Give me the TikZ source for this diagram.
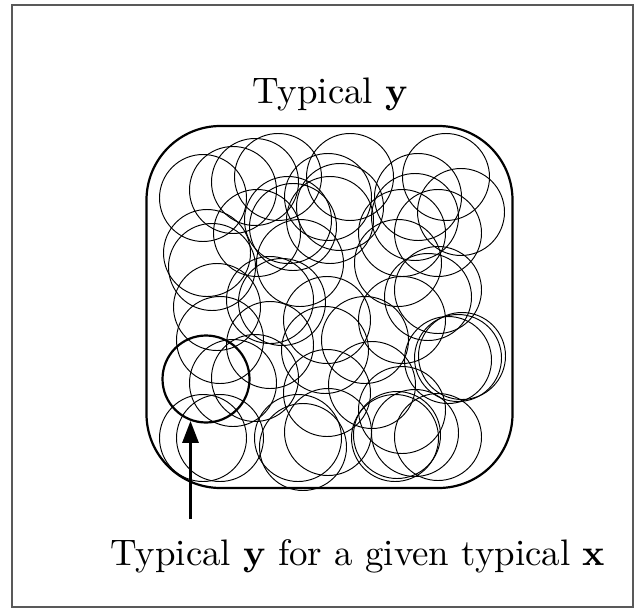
\documentclass[tikz,border=0pt]{standalone}
\usepackage{fontspec}
\setmainfont{lmroman10}[Extension=.otf,UprightFont=*-regular,BoldFont=*-bold]
\usetikzlibrary{arrows.meta}
\begin{document}
\begin{tikzpicture}[x=1pt,y=-1pt,
  thin circ/.style={draw=black,line width=0.95pt},
  lbl/.style={inner sep=0pt,font=\fontsize{36.9}{44}\selectfont}]
\useasboundingbox (0,0) rectangle (638,610);
% outer frame
\draw[black!65,line width=1.4pt] (12,5) rectangle (633,607);
% typical set
\draw[line width=2.2pt,rounded corners=74pt] (146.5,126) rectangle (512.5,488);
% many conditional typical sets
\foreach \cx/\cy in {
  203/198, 233/190, 255/182, 278/177, 328/197, 350/177, 340/207, 418/197, 446/177, 461/212,
  257/233, 288/220, 207/253, 212/267, 293/227, 300/263, 330/220, 402/233, 438/233, 398/263, 415/217,
  217/307, 220/340, 270/300, 282/302, 327/320, 365/340, 402/320, 438/290, 428/297, 325/350, 458/358, 448/360, 462/356, 402/410,
  233/383, 255/378, 270/345, 327/393, 372/385, 203/438, 220/438, 298/438, 303/447, 328/432, 395/438, 415/433, 438/437, 397/435}
  \draw[thin circ] (\cx,\cy) circle (43.5);
% the highlighted one
\node[circle,draw,line width=2.2pt,minimum size=87pt,inner sep=0pt] (tc) at (206,379) {};
% labels
\node[lbl,anchor=base] (top) at (330,103) {Typical \textbf{y}};
\node[lbl,anchor=base west] (bot) at (110,565) {Typical \textbf{y} for a given typical \textbf{x}};
\coordinate (as) at (190.5,519);
\draw[line width=3pt,-{Triangle[length=22pt,width=16pt]}] (as) -- (as |- tc.250);
\end{tikzpicture}
\end{document}
